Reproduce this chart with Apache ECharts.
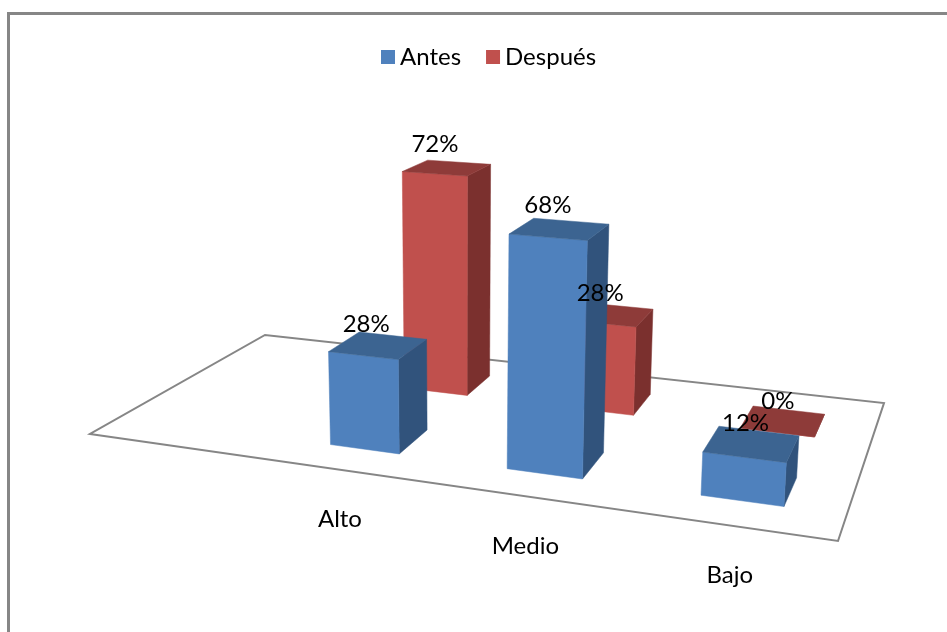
<!DOCTYPE html>
<html>
<head>
<meta charset="utf-8">
<script src="https://cdn.jsdelivr.net/npm/echarts@6/dist/echarts.min.js"></script>
<style>html,body{margin:0;padding:0;background:#fff}#c{width:947px;height:632px}</style>
</head>
<body>
<div id="c"></div>
<script>
const categories = ['Alto', 'Medio', 'Bajo'];
const antes = [28, 68, 12];
const despues = [72, 28, 0];
const seriesNames = ['Antes', 'Después'];

// Perspective set-up of the chart's floor (front-left, front-right, back-right, back-left)
const FLOOR = [[90, 434], [838, 541], [884, 403], [265, 335]];
const ROW_DEPTH = { Antes: [0.154, 0.346], 'Después': [0.654, 0.846] };
const FONT = 'Lato';

const hom = (() => {
  const [p0, p1, p2, p3] = FLOOR;
  const dx1 = p1[0] - p2[0], dx2 = p3[0] - p2[0], sx = p0[0] - p1[0] + p2[0] - p3[0];
  const dy1 = p1[1] - p2[1], dy2 = p3[1] - p2[1], sy = p0[1] - p1[1] + p2[1] - p3[1];
  const det = dx1 * dy2 - dx2 * dy1;
  const g = (sx * dy2 - dx2 * sy) / det, h = (dx1 * sy - sx * dy1) / det;
  return {
    a: p1[0] - p0[0] + g * p1[0], b: p3[0] - p0[0] + h * p3[0], c: p0[0],
    d: p1[1] - p0[1] + g * p1[1], e: p3[1] - p0[1] + h * p3[1], f: p0[1], g, h
  };
})();
function floorPt(u, v) {
  const w = hom.g * u + hom.h * v + 1;
  return [(hom.a * u + hom.b * v + hom.c) / w, (hom.d * u + hom.e * v + hom.f) / w];
}
// raise a floor point by a height in axis pixels, with perspective scale and lean
function raise(p, size) {
  const s = 2.94 + (p[1] - 376) * 0.0055;
  const h = size * s;
  return [p[0] + h * (p[0] - 460) * 1.65e-4, p[1] - h];
}
function bandU(api, idx) {
  const W = api.getWidth();
  return 0.252 + 0.75 * api.coord([idx, 0])[0] / W;
}
function poly(points, fill) {
  return { type: 'polygon', shape: { points }, style: { fill, stroke: fill, lineWidth: 0.5 } };
}
function boxRenderer(name, cFront, cTop, cSide) {
  return function (params, api) {
    const idx = api.value(0), val = api.value(1);
    const u = bandU(api, idx);
    const half = api.size([1, 0])[0] / api.getWidth() * 0.75 * 0.2;
    const hPx = api.size([0, val])[1];
    const [v0, v1] = ROW_DEPTH[name];
    const b = [floorPt(u - half, v0), floorPt(u + half, v0), floorPt(u + half, v1), floorPt(u - half, v1)];
    const t = b.map(p => raise(p, hPx));
    return {
      type: 'group',
      children: [
        poly([b[1], b[2], t[2], t[1]], cSide),
        poly([b[0], b[1], t[1], t[0]], cFront),
        poly([t[0], t[1], t[2], t[3]], cTop)
      ]
    };
  };
}
function labelRenderer(name) {
  return function (params, api) {
    const idx = api.value(0), val = api.value(1);
    const u = bandU(api, idx);
    const hPx = api.size([0, val])[1];
    const [v0, v1] = ROW_DEPTH[name];
    const top = raise(floorPt(u, (v0 + v1) / 2), hPx);
    const dx = -12 + Math.max(0, top[0] - 550) * 0.03;
    const dy = -19.5 - val * 0.06;
    return {
      type: 'text',
      style: {
        text: val + '%', x: top[0] + dx, y: top[1] + dy, align: 'center', verticalAlign: 'middle',
        font: '24px ' + FONT, fill: '#000'
      }
    };
  };
}
const toData = vals => vals.map((v, i) => [i, v]);

const option = {
  animation: false,
  backgroundColor: '#fff',
  color: ['#4F81BD', '#C0504D'],
  grid: { left: 0, width: 947, top: 0, height: 100, containLabel: false },
  xAxis: { type: 'category', data: categories, show: false },
  yAxis: { type: 'value', min: 0, max: 100, show: false },
  legend: {
    data: seriesNames, left: 376, top: 40, itemWidth: 14, itemHeight: 14, itemGap: 25,
    icon: 'rect', selectedMode: false,
    textStyle: { fontFamily: FONT, fontSize: 24, color: '#000' }
  },
  graphic: [{
    type: 'rect', silent: true, z: -1,
    shape: { x: 8.5, y: 13.5, width: 2000, height: 2000 },
    style: { fill: 'none', stroke: '#868686', lineWidth: 3 }
  }],
  series: [
    {
      type: 'custom', name: 'floor', silent: true, z: 1, data: [[0, 0]],
      renderItem: () => ({
        type: 'polygon',
        shape: { points: [floorPt(0, 0), floorPt(1, 0), floorPt(1, 1), floorPt(0, 1)] },
        style: { fill: '#fff', stroke: '#868686', lineWidth: 2 }
      })
    },
    {
      type: 'custom', name: 'Antes', z: 4, data: toData(antes), itemStyle: { color: '#4F81BD' },
      renderItem: boxRenderer('Antes', '#4F81BD', '#3C6491', '#31537C')
    },
    {
      type: 'custom', name: 'Después', z: 3, data: toData(despues), itemStyle: { color: '#C0504D' },
      renderItem: boxRenderer('Después', '#C0504D', '#8E3B39', '#7B302E')
    },
    {
      type: 'custom', name: 'lblA', silent: true, z: 6, data: toData(antes),
      renderItem: labelRenderer('Antes')
    },
    {
      type: 'custom', name: 'lblD', silent: true, z: 6, data: toData(despues),
      renderItem: labelRenderer('Después')
    },
    {
      type: 'custom', name: 'cats', silent: true, z: 6, data: categories.map((c, i) => [i, 0]),
      renderItem: (params, api) => {
        const p = floorPt(0.25 + 0.75 * api.coord([api.value(0), 0])[0] / api.getWidth(), 0);
        return {
          type: 'text',
          style: {
            text: categories[params.dataIndex], x: p[0] + 2, y: p[1] + 50,
            align: 'center', verticalAlign: 'middle', font: '24px ' + FONT, fill: '#000'
          }
        };
      }
    }
  ]
};
const chart = echarts.init(document.getElementById('c'), null, { renderer: 'canvas' });
chart.setOption(option);
</script>
</body>
</html>
